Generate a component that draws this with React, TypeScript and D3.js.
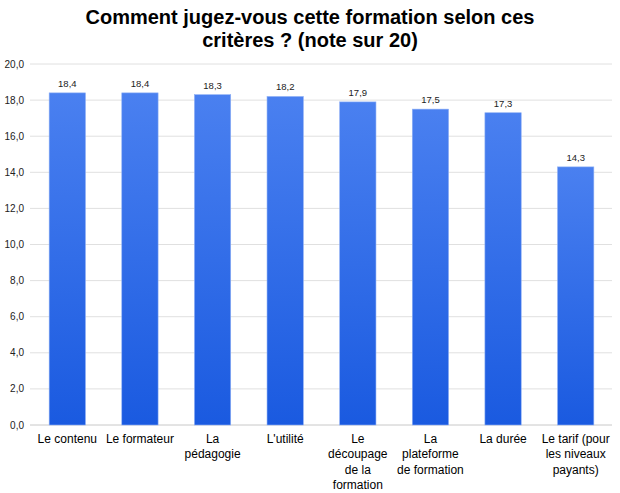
import React from "react";
import * as d3 from "d3";

const categories: string[][] = [
  ["Le contenu"],
  ["Le formateur"],
  ["La", "pédagogie"],
  ["L'utilité"],
  ["Le", "découpage", "de la", "formation"],
  ["La", "plateforme", "de formation"],
  ["La durée"],
  ["Le tarif (pour", "les niveaux", "payants)"],
];
const values: number[] = [18.4, 18.4, 18.3, 18.2, 17.9, 17.5, 17.3, 14.3];
const yTicks: number[] = [0, 2, 4, 6, 8, 10, 12, 14, 16, 18, 20];
const titleLines: string[] = ["Comment jugez-vous cette formation selon ces", "critères ? (note sur 20)"];

const W = 620;
const H = 493;
const fmt = (v: number) => v.toFixed(1).replace(".", ",");

export default function App() {
  const x = d3
    .scaleBand<number>()
    .domain(values.map((_, i) => i))
    .range([31, 612])
    .paddingInner(0.5)
    .paddingOuter(0.25);
  const y = d3.scaleLinear().domain([0, 20]).range([425, 64]);
  const font = "Liberation Sans, Arial, sans-serif";
  return (
    <svg width={W} height={H} style={{ position: "absolute", left: 0, top: 0 }} fontFamily={font}>
      <defs>
        <linearGradient id="barGrad" x1="0" y1="0" x2="0" y2="1">
          <stop offset="0%" stopColor="#4a80f0" />
          <stop offset="100%" stopColor="#1a5ae0" />
        </linearGradient>
      </defs>
      <rect width={W} height={H} fill="#fff" />
      {titleLines.map((t, i) => (
        <text key={i} x={310} y={24 + i * 23} textAnchor="middle" fontSize={20} fontWeight="bold" fill="#000">
          {t}
        </text>
      ))}
      {yTicks.map((t) => (
        <g key={t}>
          <line x1={30} x2={612} y1={y(t)} y2={y(t)} stroke={t === 0 ? "#c8c8c8" : "#e0e0e0"} strokeWidth={1} />
          <text x={24} y={y(t) + 3.5} textAnchor="end" fontSize={10} fill="#222">
            {fmt(t)}
          </text>
        </g>
      ))}
      {values.map((v, i) => (
        <g key={i}>
          <rect
            x={x(i)!}
            y={y(v)}
            width={x.bandwidth()}
            height={y(0) - y(v)}
            fill="url(#barGrad)"
            stroke="#8fb0f5"
            strokeWidth={0.6}
          />
          <text x={x(i)! + x.bandwidth() / 2} y={y(v) - 6} textAnchor="middle" fontSize={9.5} fill="#222">
            {fmt(v)}
          </text>
          {categories[i].map((line, j) => (
            <text
              key={j}
              x={x(i)! + x.bandwidth() / 2}
              y={443 + j * 15.3}
              textAnchor="middle"
              fontSize={12}
              fill="#000"
            >
              {line}
            </text>
          ))}
        </g>
      ))}
    </svg>
  );
}
